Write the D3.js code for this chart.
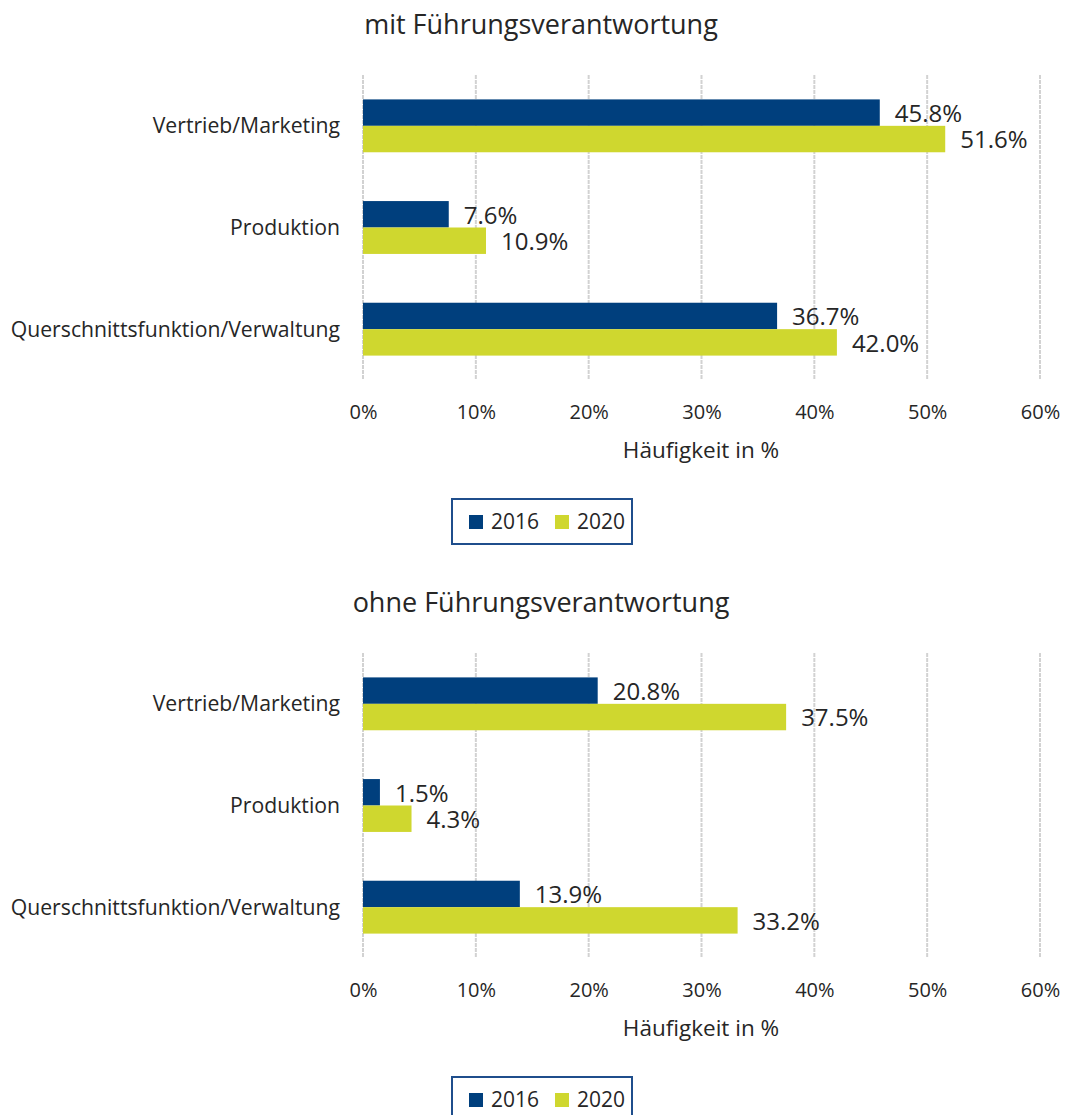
<!DOCTYPE html>
<html>
<head>
<meta charset="utf-8">
<script src="https://cdn.jsdelivr.net/npm/d3@7"></script>
<style>
  html, body { margin: 0; padding: 0; background: #fff; }
  svg { display: block; font-family: "Open Sans", "Noto Sans", sans-serif; }
</style>
</head>
<body>
<script>
// Categories, series and axis ticks
const categories = ["Vertrieb/Marketing", "Produktion", "Querschnittsfunktion/Verwaltung"];
const seriesNames = ["2016", "2020"];
const panelTitles = ["mit Führungsverantwortung", "ohne Führungsverantwortung"];
const mit2016 = [45.8, 7.6, 36.7];
const mit2020 = [51.6, 10.9, 42.0];
const ohne2016 = [20.8, 1.5, 13.9];
const ohne2020 = [37.5, 4.3, 33.2];
const tickValues = [0, 10, 20, 30, 40, 50, 60];
const axisTitle = "Häufigkeit in %";

const colors = { "2016": "#003f7d", "2020": "#cfd72f" };
const textColor = "#262626";

const W = 1065, H = 1115;
const svg = d3.select("body").append("svg").attr("width", W).attr("height", H);

const x = d3.scaleLinear().domain([0, 60]).range([363, 1040]);

function drawPanel(top, title, v2016, v2020) {
  const g = svg.append("g").attr("transform", `translate(0,${top})`);
  const plotTop = 50, plotBottom = 355;

  // title
  g.append("text")
    .attr("x", 541).attr("y", 0)
    .attr("dy", "0.35em")
    .attr("text-anchor", "middle")
    .attr("font-size", 27)
    .attr("fill", textColor)
    .text(title);

  const y = d3.scaleBand().domain(categories).range([plotTop, plotBottom]).paddingInner(0.48).paddingOuter(0.24);
  const ySub = d3.scaleBand().domain(seriesNames).range([0, y.bandwidth()]);

  // vertical gridlines
  g.append("g").selectAll("line").data(tickValues).join("line")
    .attr("x1", d => x(d)).attr("x2", d => x(d))
    .attr("y1", plotTop).attr("y2", plotBottom)
    .attr("stroke", "#d2d2d2").attr("stroke-width", 2)
    .attr("stroke-dasharray", "4,1");

  // x axis tick labels
  const axis = d3.axisBottom(x).tickValues(tickValues).tickFormat(d => d + "%").tickSize(0).tickPadding(0);
  const ax = g.append("g").attr("transform", `translate(0,${plotBottom + 32})`).call(axis);
  ax.select(".domain").remove();
  ax.selectAll("text")
    .attr("dy", "0.35em").attr("y", 0)
    .attr("font-size", 20).attr("font-family", "Open Sans, Noto Sans, sans-serif")
    .attr("fill", textColor);

  // axis title
  g.append("text")
    .attr("x", 701).attr("y", plotBottom + 70)
    .attr("dy", "0.35em").attr("text-anchor", "middle")
    .attr("font-size", 22.5).attr("fill", textColor)
    .text(axisTitle);

  // category labels
  g.append("g").selectAll("text").data(categories).join("text")
    .attr("x", 340).attr("y", d => y(d) + y.bandwidth() / 2)
    .attr("dy", "0.35em").attr("text-anchor", "end")
    .attr("font-size", 21.2).attr("fill", textColor)
    .text(d => d);

  const rows = [];
  categories.forEach((c, i) => {
    rows.push({ cat: c, s: "2016", v: v2016[i] });
    rows.push({ cat: c, s: "2020", v: v2020[i] });
  });

  // bars
  g.append("g").selectAll("rect").data(rows).join("rect")
    .attr("x", x(0))
    .attr("y", d => y(d.cat) + ySub(d.s))
    .attr("width", d => x(d.v) - x(0))
    .attr("height", ySub.bandwidth())
    .attr("fill", d => colors[d.s]);

  // value labels
  g.append("g").selectAll("text").data(rows).join("text")
    .attr("x", d => x(d.v) + 15)
    .attr("y", d => y(d.cat) + ySub(d.s) + ySub.bandwidth() / 2 + 1)
    .attr("dy", "0.35em")
    .attr("font-size", 24).attr("fill", textColor)
    .text(d => d.v.toFixed(1) + "%");

  // legend
  const lg = g.append("g").attr("transform", `translate(452,${plotBottom + 119})`);
  lg.append("rect").attr("width", 180).attr("height", 45)
    .attr("fill", "#fff").attr("stroke", "#1f4e8c").attr("stroke-width", 2);
  const items = lg.selectAll("g").data(seriesNames).join("g")
    .attr("transform", (d, i) => `translate(${17 + i * 86},0)`);
  items.append("rect").attr("x", 0).attr("y", 16).attr("width", 14).attr("height", 14)
    .attr("fill", d => colors[d]);
  items.append("text").attr("x", 22).attr("y", 23).attr("dy", "0.35em")
    .attr("font-size", 21).attr("fill", textColor).text(d => d);
}

drawPanel(25, panelTitles[0], mit2016, mit2020);
drawPanel(603, panelTitles[1], ohne2016, ohne2020);
</script>
</body>
</html>
